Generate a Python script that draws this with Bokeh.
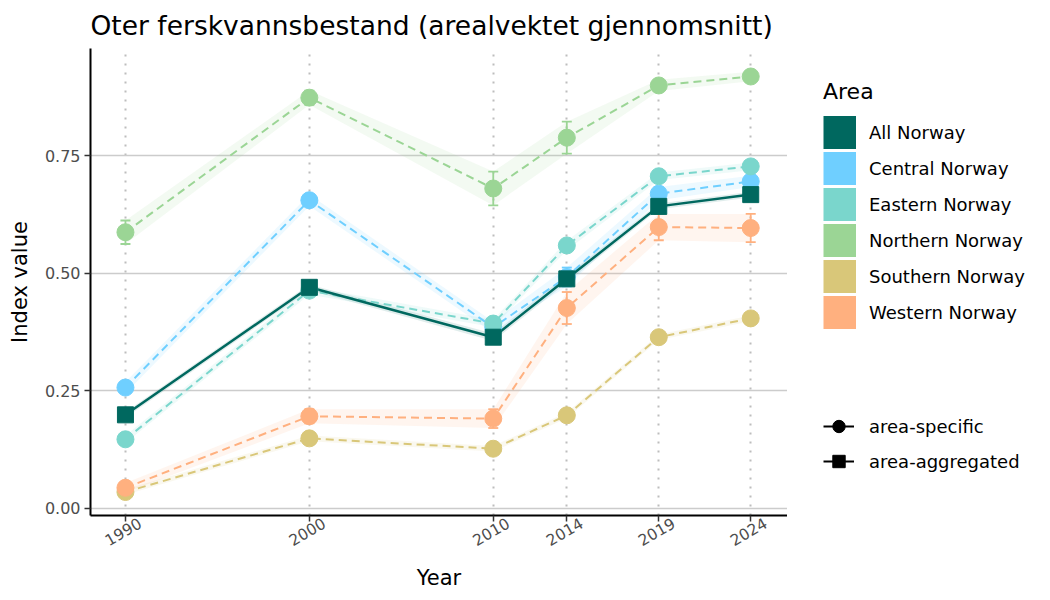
import math
from bokeh.plotting import figure
from bokeh.layouts import row
from bokeh.models import (ColumnDataSource, FixedTicker, Legend, LegendItem,
                          Whisker, TeeHead, Range1d, LinearAxis)
from bokeh.embed import file_html
from bokeh.resources import INLINE

# ---------------- data ----------------
years = [1990, 2000, 2010, 2014, 2019, 2024]
year_labels = ["1990", "2000", "2010", "2014", "2019", "2024"]
y_ticks = [0.0, 0.25, 0.5, 0.75]
y_tick_labels = ["0.00", "0.25", "0.50", "0.75"]

areas = ["All Norway", "Central Norway", "Eastern Norway",
         "Northern Norway", "Southern Norway", "Western Norway"]
colors = ["#00685f", "#6fcfff", "#7ad6cc", "#9bd595", "#d9c779", "#ffb07f"]

all_norway = [0.199, 0.470, 0.364, 0.488, 0.642, 0.667]
central = [0.257, 0.655, 0.385, 0.492, 0.669, 0.695]
eastern = [0.147, 0.463, 0.393, 0.559, 0.706, 0.727]
northern = [0.587, 0.873, 0.680, 0.788, 0.899, 0.918]
southern = [0.035, 0.149, 0.127, 0.198, 0.364, 0.404]
western = [0.044, 0.196, 0.191, 0.426, 0.598, 0.596]

# half-width of uncertainty band / error bar
all_norway_ci = [0.006, 0.006, 0.008, 0.008, 0.006, 0.006]
central_ci = [0.012, 0.012, 0.012, 0.020, 0.014, 0.012]
eastern_ci = [0.008, 0.008, 0.008, 0.010, 0.008, 0.008]
northern_ci = [0.025, 0.015, 0.036, 0.034, 0.012, 0.010]
southern_ci = [0.006, 0.006, 0.006, 0.006, 0.006, 0.006]
western_ci = [0.010, 0.015, 0.020, 0.034, 0.028, 0.030]

series_values = [all_norway, central, eastern, northern, southern, western]
series_ci = [all_norway_ci, central_ci, eastern_ci, northern_ci, southern_ci, western_ci]
aggregated = [True, False, False, False, False, False]

shape_labels = ["area-specific", "area-aggregated"]
shape_markers = ["circle", "square"]

FONT = "DejaVu Sans"
FIG_H = 597

# ---------------- main figure ----------------
X0, X1 = 1988.1, 2026.0
LABEL_SHIFT = 0.8  # years; moves rotated tick labels right like ggplot's hjust
p = figure(width=787, height=FIG_H, output_backend="svg", toolbar_location=None,
           x_range=Range1d(X0, X1), y_range=Range1d(-0.0149, 0.9775),
           min_border_left=90, min_border_right=0, min_border_top=48,
           min_border_bottom=FIG_H - 515, background_fill_color="white",
           border_fill_color="white")
p.outline_line_color = None

p.title.text = "Oter ferskvannsbestand (arealvektet gjennomsnitt)"
p.title.text_font = FONT
p.title.text_font_size = "26.5px"
p.title.text_font_style = "normal"
p.title.text_color = "black"
p.title.align = "left"
p.title.offset = 0
p.title.standoff = 15

p.extra_x_ranges = {"lab": Range1d(X0 - LABEL_SHIFT, X1 - LABEL_SHIFT)}

# axes
p.xaxis.ticker = FixedTicker(ticks=years)
p.yaxis.ticker = FixedTicker(ticks=y_ticks)
p.yaxis.major_label_overrides = {t: l for t, l in zip(y_ticks, y_tick_labels)}
for ax in (p.xaxis, p.yaxis):
    ax.axis_line_color = "black"
    ax.axis_line_width = 2
    ax.major_tick_line_color = "#333333"
    ax.major_tick_line_width = 1.5
    ax.major_tick_out = 6
    ax.major_tick_in = 0
    ax.minor_tick_line_color = None
    ax.major_label_text_font = FONT
    ax.major_label_text_font_size = "16px"
    ax.major_label_text_color = "#4d4d4d"
    ax.axis_label_text_font = FONT
    ax.axis_label_text_font_size = "21px"
    ax.axis_label_text_font_style = "normal"
    ax.axis_label_text_color = "black"
# the year labels are drawn by the shifted label axis below
p.xaxis.major_label_text_color = None
p.xaxis.major_label_text_font_size = "1px"
p.xaxis.major_label_standoff = 0
p.yaxis.axis_label = "Index value"
p.yaxis.major_label_standoff = 4
p.yaxis.axis_label_standoff = 10

lab_axis = LinearAxis(x_range_name="lab", ticker=FixedTicker(ticks=years),
                      axis_line_color=None, major_tick_line_color=None,
                      minor_tick_line_color=None,
                      major_label_overrides={y: l for y, l in zip(years, year_labels)},
                      major_label_orientation=math.pi / 6,
                      major_label_standoff=-6,
                      major_label_text_font=FONT,
                      major_label_text_font_size="15.5px",
                      major_label_text_color="#4d4d4d",
                      axis_label="Year", axis_label_text_font=FONT,
                      axis_label_text_font_size="21px",
                      axis_label_text_font_style="normal",
                      axis_label_text_color="black",
                      axis_label_standoff=11)
p.add_layout(lab_axis, "below")

# grids
p.ygrid.grid_line_color = "#cccccc"
p.ygrid.grid_line_width = 1.6
p.xgrid.grid_line_color = "#bdbdbd"
p.xgrid.grid_line_width = 2
p.xgrid.grid_line_dash = "2 7"

# ---------------- marks ----------------
sources = []
for name, vals, ci, col in zip(areas, series_values, series_ci, colors):
    lower = [v - c for v, c in zip(vals, ci)]
    upper = [v + c for v, c in zip(vals, ci)]
    sources.append(ColumnDataSource(dict(x=years, y=vals, lower=lower, upper=upper)))

for src, col in zip(sources, colors):
    p.varea(x="x", y1="lower", y2="upper", source=src, fill_color=col, fill_alpha=0.12)

for src, col, agg in zip(sources, colors, aggregated):
    if not agg:
        p.line(x="x", y="y", source=src, line_color=col, line_width=2, line_dash="8 5")
for src, col, agg in zip(sources, colors, aggregated):
    if agg:
        p.line(x="x", y="y", source=src, line_color=col, line_width=2.5)

for src, col in zip(sources, colors):
    p.add_layout(Whisker(source=src, base="x", lower="lower", upper="upper",
                         line_color=col, line_width=1.8,
                         upper_head=TeeHead(size=10, line_color=col, line_width=1.8),
                         lower_head=TeeHead(size=10, line_color=col, line_width=1.8)))

for src, col, agg in zip(sources, colors, aggregated):
    if not agg:
        p.scatter(x="x", y="y", source=src, marker="circle", size=17,
                  fill_color=col, line_color=col)
for src, col, agg in zip(sources, colors, aggregated):
    if agg:
        p.scatter(x="x", y="y", source=src, marker="square", size=16,
                  fill_color=col, line_color=col)

# ---------------- legend panel ----------------
# (its frame is aligned with the main frame: top 48, bottom 515)
q = figure(width=253, height=FIG_H, output_backend="svg", toolbar_location=None,
           x_range=Range1d(0, 1), y_range=Range1d(0, 1),
           x_axis_location=None, y_axis_location=None,
           min_border=0, background_fill_color="white", border_fill_color="white")
q.outline_line_color = None
q.grid.visible = False

def offscreen():
    # legend-only renderer source: one point far outside the visible range
    return ColumnDataSource(dict(x=[-10.0], y=[-10.0]))

SW_GLYPH_W, SW_GLYPH_H = 33, 36
sw_marker = 0.4 * min(SW_GLYPH_W, SW_GLYPH_H)
area_items = []
for name, col in zip(areas, colors):
    r = q.scatter(x="x", y="y", source=offscreen(), marker="square",
                  fill_color=col, line_color=col,
                  line_width=SW_GLYPH_W - sw_marker, line_join="miter")
    area_items.append(LegendItem(label=name, renderers=[r]))

leg1 = Legend(items=area_items, title="Area", location=(36, 185),
              glyph_width=SW_GLYPH_W, glyph_height=SW_GLYPH_H, spacing=0,
              label_standoff=13, padding=0, margin=0, border_line_color=None,
              background_fill_alpha=0, title_standoff=10)
leg1.title_text_font = FONT
leg1.title_text_font_size = "22px"
leg1.title_text_font_style = "normal"
leg1.title_text_color = "black"
leg1.label_text_font = FONT
leg1.label_text_font_size = "18px"
leg1.label_text_color = "black"
q.add_layout(leg1, "center")

shape_items = []
for lbl, mk in zip(shape_labels, shape_markers):
    lr = q.line(x="x", y="y", source=offscreen(), line_color="black", line_width=2)
    sr = q.scatter(x="x", y="y", source=offscreen(), marker=mk,
                   fill_color="black", line_color="black")
    shape_items.append(LegendItem(label=lbl, renderers=[lr, sr]))

leg2 = Legend(items=shape_items, location=(36, 38),
              glyph_width=31, glyph_height=32, spacing=3, label_standoff=15,
              padding=0, margin=0, border_line_color=None,
              background_fill_alpha=0)
leg2.label_text_font = FONT
leg2.label_text_font_size = "18px"
leg2.label_text_color = "black"
q.add_layout(leg2, "center")

page = row(p, q, spacing=0)
open("out.html", "w").write(file_html(page, INLINE))
